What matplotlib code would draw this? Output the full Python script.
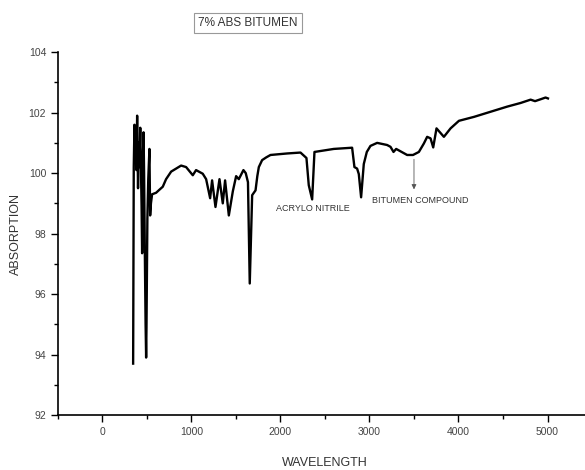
import matplotlib
matplotlib.use("Agg")
import matplotlib.pyplot as plt
from matplotlib.ticker import MultipleLocator

plt.rcParams['font.family'] = ['Liberation Sans Narrow', 'Liberation Sans', 'DejaVu Sans']

# FTIR trace
wavelength = [345, 352, 360, 368, 375, 382, 390, 396, 400, 408, 415, 425, 432, 440, 446,
              455, 462, 468, 476, 485, 491, 495, 505, 515, 528, 536, 545, 558, 603, 640,
              678, 715, 772, 828, 884, 940, 1015, 1052, 1127, 1165, 1210, 1232, 1270,
              1315, 1352, 1378, 1420, 1465, 1502, 1532, 1584, 1610, 1635, 1655, 1682,
              1720, 1740, 1757, 1794, 1840, 1888, 2075, 2225, 2292, 2318, 2356, 2382, 2599, 2805,
              2831, 2861, 2880, 2906, 2936, 2970, 3011, 3086, 3198, 3236, 3270, 3300, 3423,
              3489, 3555, 3611, 3648, 3686, 3716, 3753, 3836, 3911, 4005, 4174, 4361,
              4548, 4698, 4810, 4860, 4930, 4978, 5005]
absorption = [93.7, 100.2, 101.6, 100.4, 101.2, 100.1, 101.9, 100.5, 99.5, 101.0, 100.2, 101.5,
              100.3, 98.9, 97.35, 100.6, 101.35, 100.0, 97.5, 95.0, 93.9, 94.9, 98.5, 99.8,
              100.8, 98.6, 99.0, 99.3, 99.35, 99.45, 99.55, 99.8, 100.05, 100.15, 100.25,
              100.2, 99.93, 100.1, 99.98, 99.8, 99.17, 99.76, 98.88, 99.8, 99.0, 99.76,
              98.6, 99.4, 99.9, 99.8, 100.1, 100.0, 99.7, 96.35, 99.27, 99.43, 99.9, 100.2,
              100.43, 100.52, 100.6, 100.65, 100.68, 100.5, 99.6, 99.13, 100.7, 100.8, 100.84,
              100.2, 100.15, 99.97, 99.2, 100.3, 100.7, 100.9, 101.0, 100.93, 100.87, 100.7,
              100.8, 100.6, 100.6, 100.7, 100.98, 101.2, 101.15, 100.85, 101.48, 101.2,
              101.48, 101.73, 101.86, 102.03, 102.2, 102.32, 102.43, 102.38, 102.45,
              102.5, 102.47]

title = "7% ABS BITUMEN"
notes = [("ACRYLO NITRILE", 2360, 98.84), ("BITUMEN COMPOUND", 3573, 99.1)]
arrow_x, arrow_top, arrow_bottom = 3500, 100.55, 99.37

fig = plt.figure(figsize=(5.85, 4.7), dpi=100)
ax = fig.add_axes([0.099, 0.117, 0.913, 0.772])

ax.plot(wavelength, absorption, color='black', lw=1.7)

ax.set_xlim(-500, 5500)
ax.set_ylim(92, 104)
ax.xaxis.set_major_locator(MultipleLocator(1000))
ax.xaxis.set_minor_locator(MultipleLocator(500))
ax.yaxis.set_major_locator(MultipleLocator(2))
ax.yaxis.set_minor_locator(MultipleLocator(1))
ax.tick_params(which='major', length=5, width=1, labelsize=7.5, labelcolor='#444444')
ax.tick_params(which='minor', length=3, width=1)
ax.spines['top'].set_visible(False)
ax.spines['right'].set_visible(False)
for s in ('left', 'bottom'):
    ax.spines[s].set_linewidth(1.2)

ax.set_xlabel("WAVELENGTH", fontsize=9, color='#333333')
ax.set_ylabel("ABSORPTION", fontsize=9, color='#333333')
ax.xaxis.set_label_coords(0.5 - (58 + 267 - 325) / 534, -0.115)
ax.yaxis.set_label_coords(-0.068, 0.5)

for txt, x, y in notes:
    ax.text(x, y, txt, fontsize=6.5, ha='center', va='center', color='#333333')
ax.annotate("", xy=(arrow_x, arrow_bottom), xytext=(arrow_x, arrow_top),
            arrowprops=dict(arrowstyle='-|>', color='#555555', lw=0.6, mutation_scale=7))

fig.text(0.424, 0.951, title, fontsize=8.5, ha='center', va='center', color='#333333',
         bbox=dict(boxstyle='square,pad=0.35', fc='white', ec='#999999', lw=0.8))

fig.savefig("out.png", dpi=100)
